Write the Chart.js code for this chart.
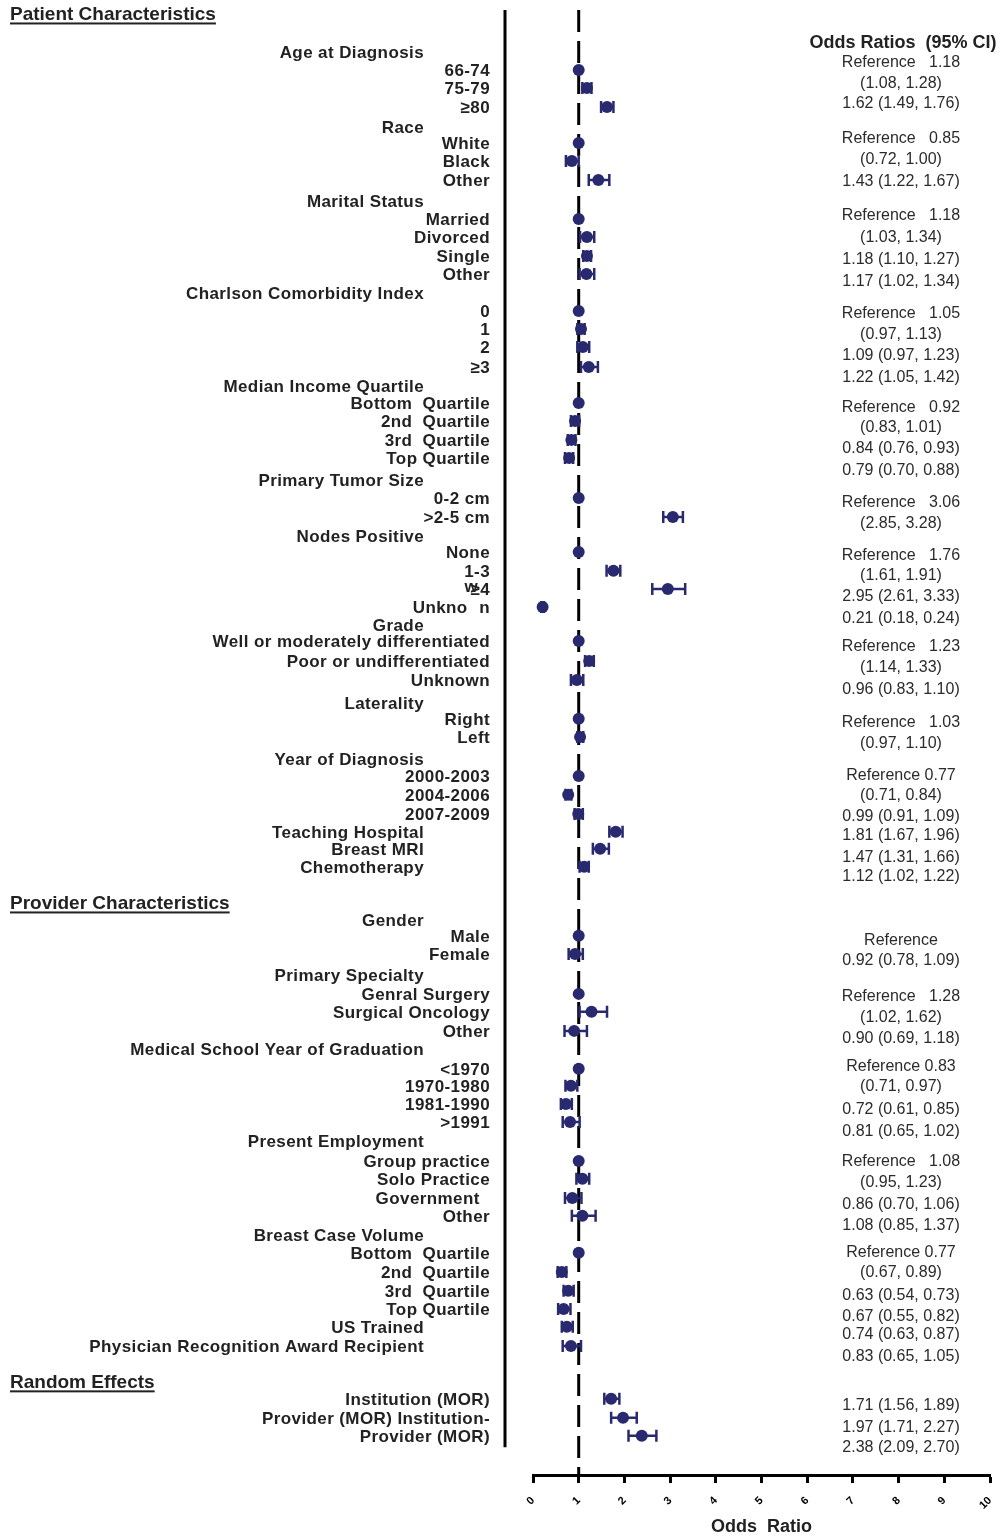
<!DOCTYPE html>
<html>
<head>
<meta charset="utf-8">
<script src="https://cdn.jsdelivr.net/npm/chart.js@4.4.1/dist/chart.umd.min.js"></script>
<style>
  html, body { margin: 0; padding: 0; background: #fff; }
</style>
</head>
<body>
<canvas id="forest" width="1002" height="1538"></canvas>
<script>
// rows that carry a marker (label, indent level, row position)
const rowLabels = [
  '66-74', '75-79', '≥80',
  'White', 'Black', 'Other',
  'Married', 'Divorced', 'Single', 'Other',
  '0', '1', '2', '≥3',
  'Bottom  Quartile', '2nd  Quartile', '3rd  Quartile', 'Top Quartile',
  '0-2 cm', '>2-5 cm',
  'None', '1-3', '≥4', 'Unknoʷn',
  'Well or moderately differentiated', 'Poor or undifferentiated', 'Unknown',
  'Right', 'Left',
  '2000-2003', '2004-2006', '2007-2009',
  'Teaching Hospital', 'Breast MRI', 'Chemotherapy',
  'Male', 'Female',
  'Genral Surgery', 'Surgical Oncology', 'Other',
  '<1970', '1970-1980', '1981-1990', '>1991',
  'Group practice', 'Solo Practice', 'Government  ', 'Other',
  'Bottom  Quartile', '2nd  Quartile', '3rd  Quartile', 'Top Quartile',
  'US Trained', 'Physician Recognition Award Recipient',
  'Institution (MOR)', 'Provider (MOR) Institution-', 'Provider (MOR)'
];
const rowLevel = [
  1, 1, 1,  1, 1, 1,  1, 1, 1, 1,  1, 1, 1, 1,  1, 1, 1, 1,  1, 1,
  1, 1, 1, 1,  1, 1, 1,  1, 1,  1, 1, 1,  0, 0, 0,
  1, 1,  1, 1, 1,  1, 1, 1, 1,  1, 1, 1, 1,  1, 1, 1, 1,  0, 0,  1, 1, 1
];
const rowPos = [
  3.24, 4.22, 5.24,
  7.19, 8.16, 9.19,
  11.30, 12.27, 13.30, 14.27,
  16.27, 17.24, 18.22, 19.30,
  21.24, 22.22, 23.24, 24.22,
  26.38, 27.41,
  29.30, 30.32, 31.30, 32.27,
  34.11, 35.19, 36.22,
  38.32, 39.30,
  41.41, 42.43, 43.46,
  44.43, 45.35, 46.32,
  50.05, 51.03,
  53.19, 54.16, 55.19,
  57.24, 58.16, 59.14, 60.11,
  62.22, 63.19, 64.22, 65.19,
  67.19, 68.22, 69.24, 70.22,
  71.19, 72.22,
  75.08, 76.11, 77.08
];

// odds ratios and 95% CI (null = reference category)
const oddsRatio = [
  1, 1.18, 1.62,
  1, 0.85, 1.43,
  1, 1.18, 1.18, 1.17,
  1, 1.05, 1.09, 1.22,
  1, 0.92, 0.84, 0.79,
  1, 3.06,
  1, 1.76, 2.95, 0.21,
  1, 1.23, 0.96,
  1, 1.03,
  1, 0.77, 0.99,
  1.81, 1.47, 1.12,
  1, 0.92,
  1, 1.28, 0.90,
  1, 0.83, 0.72, 0.81,
  1, 1.08, 0.86, 1.08,
  1, 0.63, 0.77, 0.67,
  0.74, 0.83,
  1.71, 1.97, 2.38
];
const ciLower = [
  null, 1.08, 1.49,
  null, 0.72, 1.22,
  null, 1.03, 1.10, 1.02,
  null, 0.97, 0.97, 1.05,
  null, 0.83, 0.76, 0.70,
  null, 2.85,
  null, 1.61, 2.61, 0.18,
  null, 1.14, 0.83,
  null, 0.97,
  null, 0.71, 0.91,
  1.67, 1.31, 1.02,
  null, 0.78,
  null, 1.02, 0.69,
  null, 0.71, 0.61, 0.65,
  null, 0.95, 0.70, 0.85,
  null, 0.54, 0.67, 0.55,
  0.63, 0.65,
  1.56, 1.71, 2.09
];
const ciUpper = [
  null, 1.28, 1.76,
  null, 1.00, 1.67,
  null, 1.34, 1.27, 1.34,
  null, 1.13, 1.23, 1.42,
  null, 1.01, 0.93, 0.88,
  null, 3.28,
  null, 1.91, 3.33, 0.24,
  null, 1.33, 1.10,
  null, 1.10,
  null, 0.84, 1.09,
  1.96, 1.66, 1.22,
  null, 1.09,
  null, 1.62, 1.18,
  null, 0.97, 0.85, 1.02,
  null, 1.23, 1.06, 1.37,
  null, 0.73, 0.89, 0.82,
  0.87, 1.05,
  1.89, 2.27, 2.70
];

// variable headings
const groupLabels = [
  'Age at Diagnosis', 'Race', 'Marital Status', 'Charlson Comorbidity Index',
  'Median Income Quartile', 'Primary Tumor Size', 'Nodes Positive', 'Grade',
  'Laterality', 'Year of Diagnosis', 'Gender', 'Primary Specialty',
  'Medical School Year of Graduation', 'Present Employment', 'Breast Case Volume'
];
const groupPos = [2.27, 6.32, 10.32, 15.30, 20.32, 25.41, 28.43, 33.24, 37.46, 40.49,
  49.19, 52.16, 56.16, 61.14, 66.22];

const sectionLabels = ['Patient Characteristics', 'Provider Characteristics', 'Random Effects'];
const sectionPos = [0.16, 48.22, 74.11];

// right hand column
const orHeader = 'Odds Ratios  (95% CI)';
const orHeaderPos = 1.68;
const orText = [
  'Reference   1.18', '(1.08, 1.28)', '1.62 (1.49, 1.76)',
  'Reference   0.85', '(0.72, 1.00)', '1.43 (1.22, 1.67)',
  'Reference   1.18', '(1.03, 1.34)', '1.18 (1.10, 1.27)', '1.17 (1.02, 1.34)',
  'Reference   1.05', '(0.97, 1.13)', '1.09 (0.97, 1.23)', '1.22 (1.05, 1.42)',
  'Reference   0.92', '(0.83, 1.01)', '0.84 (0.76, 0.93)', '0.79 (0.70, 0.88)',
  'Reference   3.06', '(2.85, 3.28)',
  'Reference   1.76', '(1.61, 1.91)', '2.95 (2.61, 3.33)', '0.21 (0.18, 0.24)',
  'Reference   1.23', '(1.14, 1.33)', '0.96 (0.83, 1.10)',
  'Reference   1.03', '(0.97, 1.10)',
  'Reference 0.77', '(0.71, 0.84)', '0.99 (0.91, 1.09)',
  '1.81 (1.67, 1.96)', '1.47 (1.31, 1.66)', '1.12 (1.02, 1.22)',
  'Reference', '0.92 (0.78, 1.09)',
  'Reference   1.28', '(1.02, 1.62)', '0.90 (0.69, 1.18)',
  'Reference 0.83', '(0.71, 0.97)', '0.72 (0.61, 0.85)', '0.81 (0.65, 1.02)',
  'Reference   1.08', '(0.95, 1.23)', '0.86 (0.70, 1.06)', '1.08 (0.85, 1.37)',
  'Reference 0.77', '(0.67, 0.89)', '0.63 (0.54, 0.73)', '0.67 (0.55, 0.82)',
  '0.74 (0.63, 0.87)', '0.83 (0.65, 1.05)',
  '1.71 (1.56, 1.89)', '1.97 (1.71, 2.27)', '2.38 (2.09, 2.70)'
];
const orTextPos = [
  2.76, 3.89, 4.97,
  6.86, 8.00, 9.19,
  11.03, 12.22, 13.41, 14.59,
  16.32, 17.46, 18.59, 19.78,
  21.41, 22.49, 23.62, 24.81,
  26.54, 27.68,
  29.41, 30.49, 31.62, 32.81,
  34.32, 35.46, 36.65,
  38.43, 39.57,
  41.30, 42.38, 43.51,
  44.54, 45.73, 46.76,
  50.22, 51.30,
  53.24, 54.38, 55.51,
  57.03, 58.11, 59.35, 60.54,
  62.16, 63.30, 64.49, 65.62,
  67.08, 68.16, 69.41, 70.54,
  71.51, 72.70,
  75.35, 76.54, 77.62
];

const xTicks = [0, 1, 2, 3, 4, 5, 6, 7, 8, 9, 10];

const FAMILY = '"Liberation Sans", Arial, Helvetica, sans-serif';
const navy = '#29296f';
const yMax = 79.2;
const textShift = 1.5;
Chart.defaults.font.family = FAMILY;

const decor = {
  id: 'decor',
  beforeDatasetsDraw(chart) {
    const { ctx, chartArea: a, scales: { x, y } } = chart;
    ctx.save();
    ctx.strokeStyle = '#000';
    ctx.lineWidth = 3;
    // solid rule left of the plot
    const lx = a.left - 28;
    ctx.beginPath();
    ctx.moveTo(lx, a.top);
    ctx.lineTo(lx, y.getPixelForValue(77.7));
    ctx.stroke();
    // no-effect line at OR = 1
    const x1 = x.getPixelForValue(1);
    ctx.setLineDash([22, 9]);
    ctx.beginPath();
    ctx.moveTo(x1, a.top);
    ctx.lineTo(x1, a.bottom);
    ctx.stroke();
    ctx.setLineDash([]);
    // confidence intervals
    ctx.strokeStyle = navy;
    ctx.lineWidth = 2.5;
    for (let i = 0; i < oddsRatio.length; i++) {
      if (ciLower[i] == null) continue;
      const py = y.getPixelForValue(rowPos[i]);
      const xl = x.getPixelForValue(ciLower[i]);
      const xh = x.getPixelForValue(ciUpper[i]);
      ctx.beginPath();
      ctx.moveTo(xl, py); ctx.lineTo(xh, py);
      ctx.moveTo(xl, py - 6); ctx.lineTo(xl, py + 6);
      ctx.moveTo(xh, py - 6); ctx.lineTo(xh, py + 6);
      ctx.stroke();
    }
    ctx.restore();
  },
  afterDraw(chart) {
    const { ctx, chartArea: a, scales: { y } } = chart;
    const ty = v => y.getPixelForValue(v) + textShift;
    ctx.save();
    ctx.textBaseline = 'middle';
    ctx.fillStyle = '#222';

    // section headings, underlined
    ctx.font = 'bold 19px ' + FAMILY;
    ctx.textAlign = 'left';
    sectionLabels.forEach((t, i) => {
      const py = ty(sectionPos[i]);
      ctx.fillText(t, 10, py);
      const w = ctx.measureText(t).width;
      ctx.fillRect(10, py + 8, w, 2);
    });

    // variable headings and row labels
    ctx.font = 'bold 17px ' + FAMILY;
    ctx.letterSpacing = '0.4px';
    ctx.textAlign = 'right';
    groupLabels.forEach((t, i) => {
      ctx.fillText(t, a.left - 109, ty(groupPos[i]));
    });
    rowLabels.forEach((t, i) => {
      const rx = a.left - (rowLevel[i] ? 43 : 109);
      const py = ty(rowPos[i]);
      if (t.includes('ʷ')) {
        const [head, tail] = t.split('ʷ');
        const wt = ctx.measureText(tail).width;
        const ww = ctx.measureText('w').width;
        ctx.fillText(tail, rx, py);
        ctx.fillText('w', rx - wt - 1, py - 21);
        ctx.fillText(head, rx - wt - ww + 2, py);
      } else {
        ctx.fillText(t, rx, py);
      }
    });
    ctx.letterSpacing = '0px';

    // odds ratio column
    ctx.textAlign = 'center';
    ctx.font = 'bold 18px ' + FAMILY;
    ctx.fillText(orHeader, 903, ty(orHeaderPos));
    ctx.font = '16px ' + FAMILY;
    ctx.fillStyle = '#2b2b2b';
    orText.forEach((t, i) => {
      ctx.fillText(t, 901, ty(orTextPos[i]));
    });
    ctx.restore();
  }
};

new Chart(document.getElementById('forest'), {
  type: 'scatter',
  data: {
    datasets: [{
      label: 'Odds ratio',
      data: oddsRatio.map((v, i) => ({ x: v, y: rowPos[i] })),
      backgroundColor: navy,
      borderWidth: 0,
      pointRadius: 6,
      pointHoverRadius: 6
    }]
  },
  options: {
    responsive: false,
    animation: false,
    events: [],
    layout: { padding: { left: 533, right: 12, top: 10, bottom: 0 } },
    plugins: {
      legend: { display: false },
      tooltip: { enabled: false }
    },
    scales: {
      x: {
        type: 'linear',
        min: 0,
        max: 10,
        afterFit(s) {
          s.height = 63;
          s.paddingLeft = 0;
          s.paddingRight = 0;
        },
        afterBuildTicks(s) { s.ticks = xTicks.map(v => ({ value: v })); },
        ticks: {
          autoSkip: false,
          minRotation: 45,
          maxRotation: 45,
          padding: 11,
          color: '#000',
          font: { size: 11, weight: 'bold' }
        },
        grid: {
          drawOnChartArea: false,
          drawTicks: true,
          tickLength: 8,
          tickWidth: 3,
          tickColor: '#000'
        },
        border: { display: true, color: '#000', width: 3 },
        title: {
          display: true,
          text: 'Odds  Ratio',
          color: '#222',
          font: { size: 18, weight: 'bold' },
          padding: { top: 0, bottom: 0 }
        }
      },
      y: {
        type: 'linear',
        display: false,
        reverse: true,
        min: 0,
        max: yMax
      }
    }
  },
  plugins: [decor]
});
</script>
</body>
</html>
